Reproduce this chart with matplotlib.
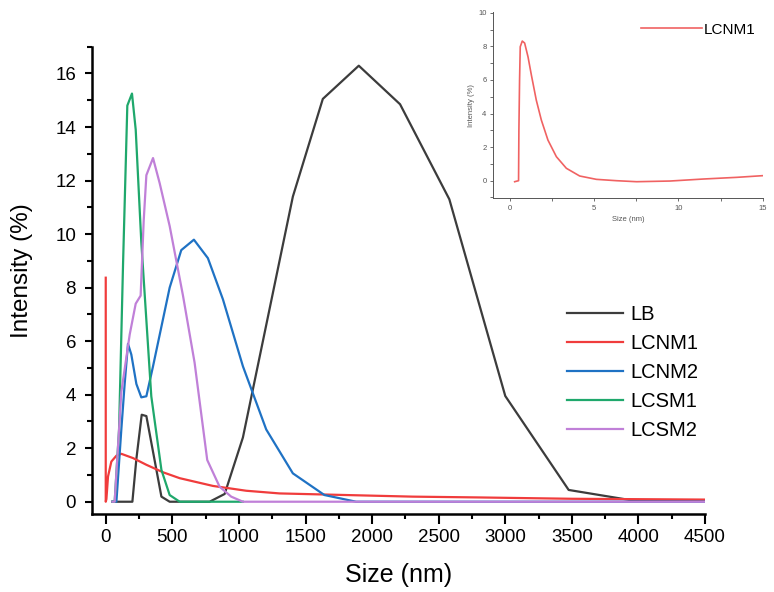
import matplotlib
matplotlib.use('Agg')
import matplotlib.pyplot as plt
from matplotlib.ticker import MultipleLocator

plt.rcParams['font.family'] = ['Liberation Sans', 'DejaVu Sans']

# main chart data
lb_x = [50, 200, 230, 270, 305, 418, 480, 780, 893, 1030, 1405, 1630, 1900, 2210, 2580, 3000, 3476, 3940, 4500]
lb_y = [0, 0, 1.6, 3.25, 3.2, 0.19, 0, 0, 0.29, 2.4, 11.4, 15.05, 16.29, 14.85, 11.3, 3.95, 0.44, 0.06, 0.05]

lcnm1_x = [0, 0, 5, 17, 42, 80, 117, 205, 305, 430, 555, 805, 1055, 1305, 1805, 2305, 2805, 3500, 4500]
lcnm1_y = [8.37, 0, 0.1, 0.94, 1.5, 1.72, 1.79, 1.63, 1.38, 1.1, 0.88, 0.59, 0.41, 0.31, 0.25, 0.19, 0.16, 0.11, 0.08]

lcnm2_x = [50, 80, 117, 142, 167, 192, 230, 267, 305, 355, 480, 567, 662, 767, 880, 1030, 1205, 1405, 1642, 1880, 4500]
lcnm2_y = [0, 0, 2.7, 4.4, 5.9, 5.5, 4.4, 3.9, 3.94, 5.06, 8.0, 9.4, 9.79, 9.1, 7.56, 5.06, 2.7, 1.06, 0.25, 0, 0]

lcsm1_x = [50, 67, 100, 130, 162, 197, 225, 267, 342, 418, 480, 555, 1030]
lcsm1_y = [0, 0, 2.7, 8.9, 14.8, 15.25, 13.9, 9.7, 3.94, 1.19, 0.25, 0, 0]

lcsm2_x = [50, 67, 117, 180, 225, 262, 285, 305, 355, 405, 480, 580, 667, 762, 855, 942, 1030, 4500]
lcsm2_y = [0, 0, 4.1, 6.25, 7.4, 7.7, 10.5, 12.2, 12.84, 11.9, 10.3, 7.7, 5.2, 1.56, 0.56, 0.19, 0, 0]

# inset data (LCNM1 in nm)
ins_x = [0.3, 0.53, 0.55, 0.59, 0.63, 0.75, 0.89, 1.09, 1.29, 1.58, 1.88, 2.27, 2.77, 3.36,
         4.15, 5.14, 6.33, 7.52, 9.5, 11.48, 13.46, 15]
ins_y = [-0.06, 0, 3.0, 6.0, 7.98, 8.32, 8.2, 7.38, 6.29, 4.8, 3.61, 2.42, 1.43, 0.74,
         0.28, 0.08, 0, -0.06, -0.02, 0.1, 0.2, 0.3]

series = [('LB', lb_x, lb_y, '#3c3c3c'),
          ('LCNM1', lcnm1_x, lcnm1_y, '#f03c3c'),
          ('LCNM2', lcnm2_x, lcnm2_y, '#1f72c4'),
          ('LCSM1', lcsm1_x, lcsm1_y, '#1fa86c'),
          ('LCSM2', lcsm2_x, lcsm2_y, '#c080d8')]

fig = plt.figure(figsize=(7.74, 5.92), dpi=100)
ax = fig.add_axes([0.1189, 0.1326, 0.792, 0.7885])

for name, xs, ys, c in series:
    ax.plot(xs, ys, color=c, lw=1.6, label=name)

ax.set_xlim(-103, 4500)
ax.set_ylim(-0.44, 17.0)
ax.xaxis.set_major_locator(MultipleLocator(500))
ax.xaxis.set_minor_locator(MultipleLocator(250))
ax.yaxis.set_major_locator(MultipleLocator(2))
ax.yaxis.set_minor_locator(MultipleLocator(1))
ax.tick_params(which='both', direction='out', width=1.5, labelsize=13.5)
ax.tick_params(axis='x', which='major', length=7, pad=4.5)
ax.tick_params(axis='x', which='minor', length=3.6)
ax.tick_params(axis='y', which='major', length=5, pad=6.5)
ax.tick_params(axis='y', which='minor', length=3.8)
ax.spines['top'].set_visible(False)
ax.spines['right'].set_visible(False)
ax.spines['left'].set_linewidth(1.8)
ax.spines['bottom'].set_linewidth(1.8)
ax.set_xlabel('Size (nm)', fontsize=18, labelpad=12)
ax.set_ylabel('Intensity (%)', fontsize=17.5, labelpad=16, y=0.52)

ax.legend(loc='upper left', bbox_to_anchor=(0.775, 0.447), frameon=False,
          fontsize=14.5, handlelength=2.8, handletextpad=0.35, labelspacing=0.5,
          borderpad=0, borderaxespad=0)

# inset
ins = fig.add_axes([0.6366, 0.665, 0.349, 0.315])
ins.plot(ins_x, ins_y, color='#f06262', lw=1.2, label='LCNM1')
ins.set_xlim(-1, 15)
ins.set_ylim(-1.05, 10.06)
ins.xaxis.set_major_locator(MultipleLocator(5))
ins.xaxis.set_minor_locator(MultipleLocator(2.5))
ins.yaxis.set_major_locator(MultipleLocator(2))
ins.yaxis.set_minor_locator(MultipleLocator(1))
ins.tick_params(which='both', direction='out', width=0.6, length=2.5, labelsize=5.5,
                colors='#555555', pad=2)
for s in ['top', 'right']:
    ins.spines[s].set_visible(False)
for s in ['left', 'bottom']:
    ins.spines[s].set_color('#555555')
    ins.spines[s].set_linewidth(0.7)
ins.patch.set_alpha(0)
ins.set_xlabel('Size (nm)', fontsize=5.5, color='#555555', labelpad=3.5)
ins.set_ylabel('Intensity (%)', fontsize=5.5, color='#555555', labelpad=2)
ins.legend(loc='center left', bbox_to_anchor=(0.55, 0.905), frameon=False,
           fontsize=11, handlelength=4.0, handletextpad=0.1, borderpad=0, borderaxespad=0)

fig.savefig('out.png', dpi=100)
